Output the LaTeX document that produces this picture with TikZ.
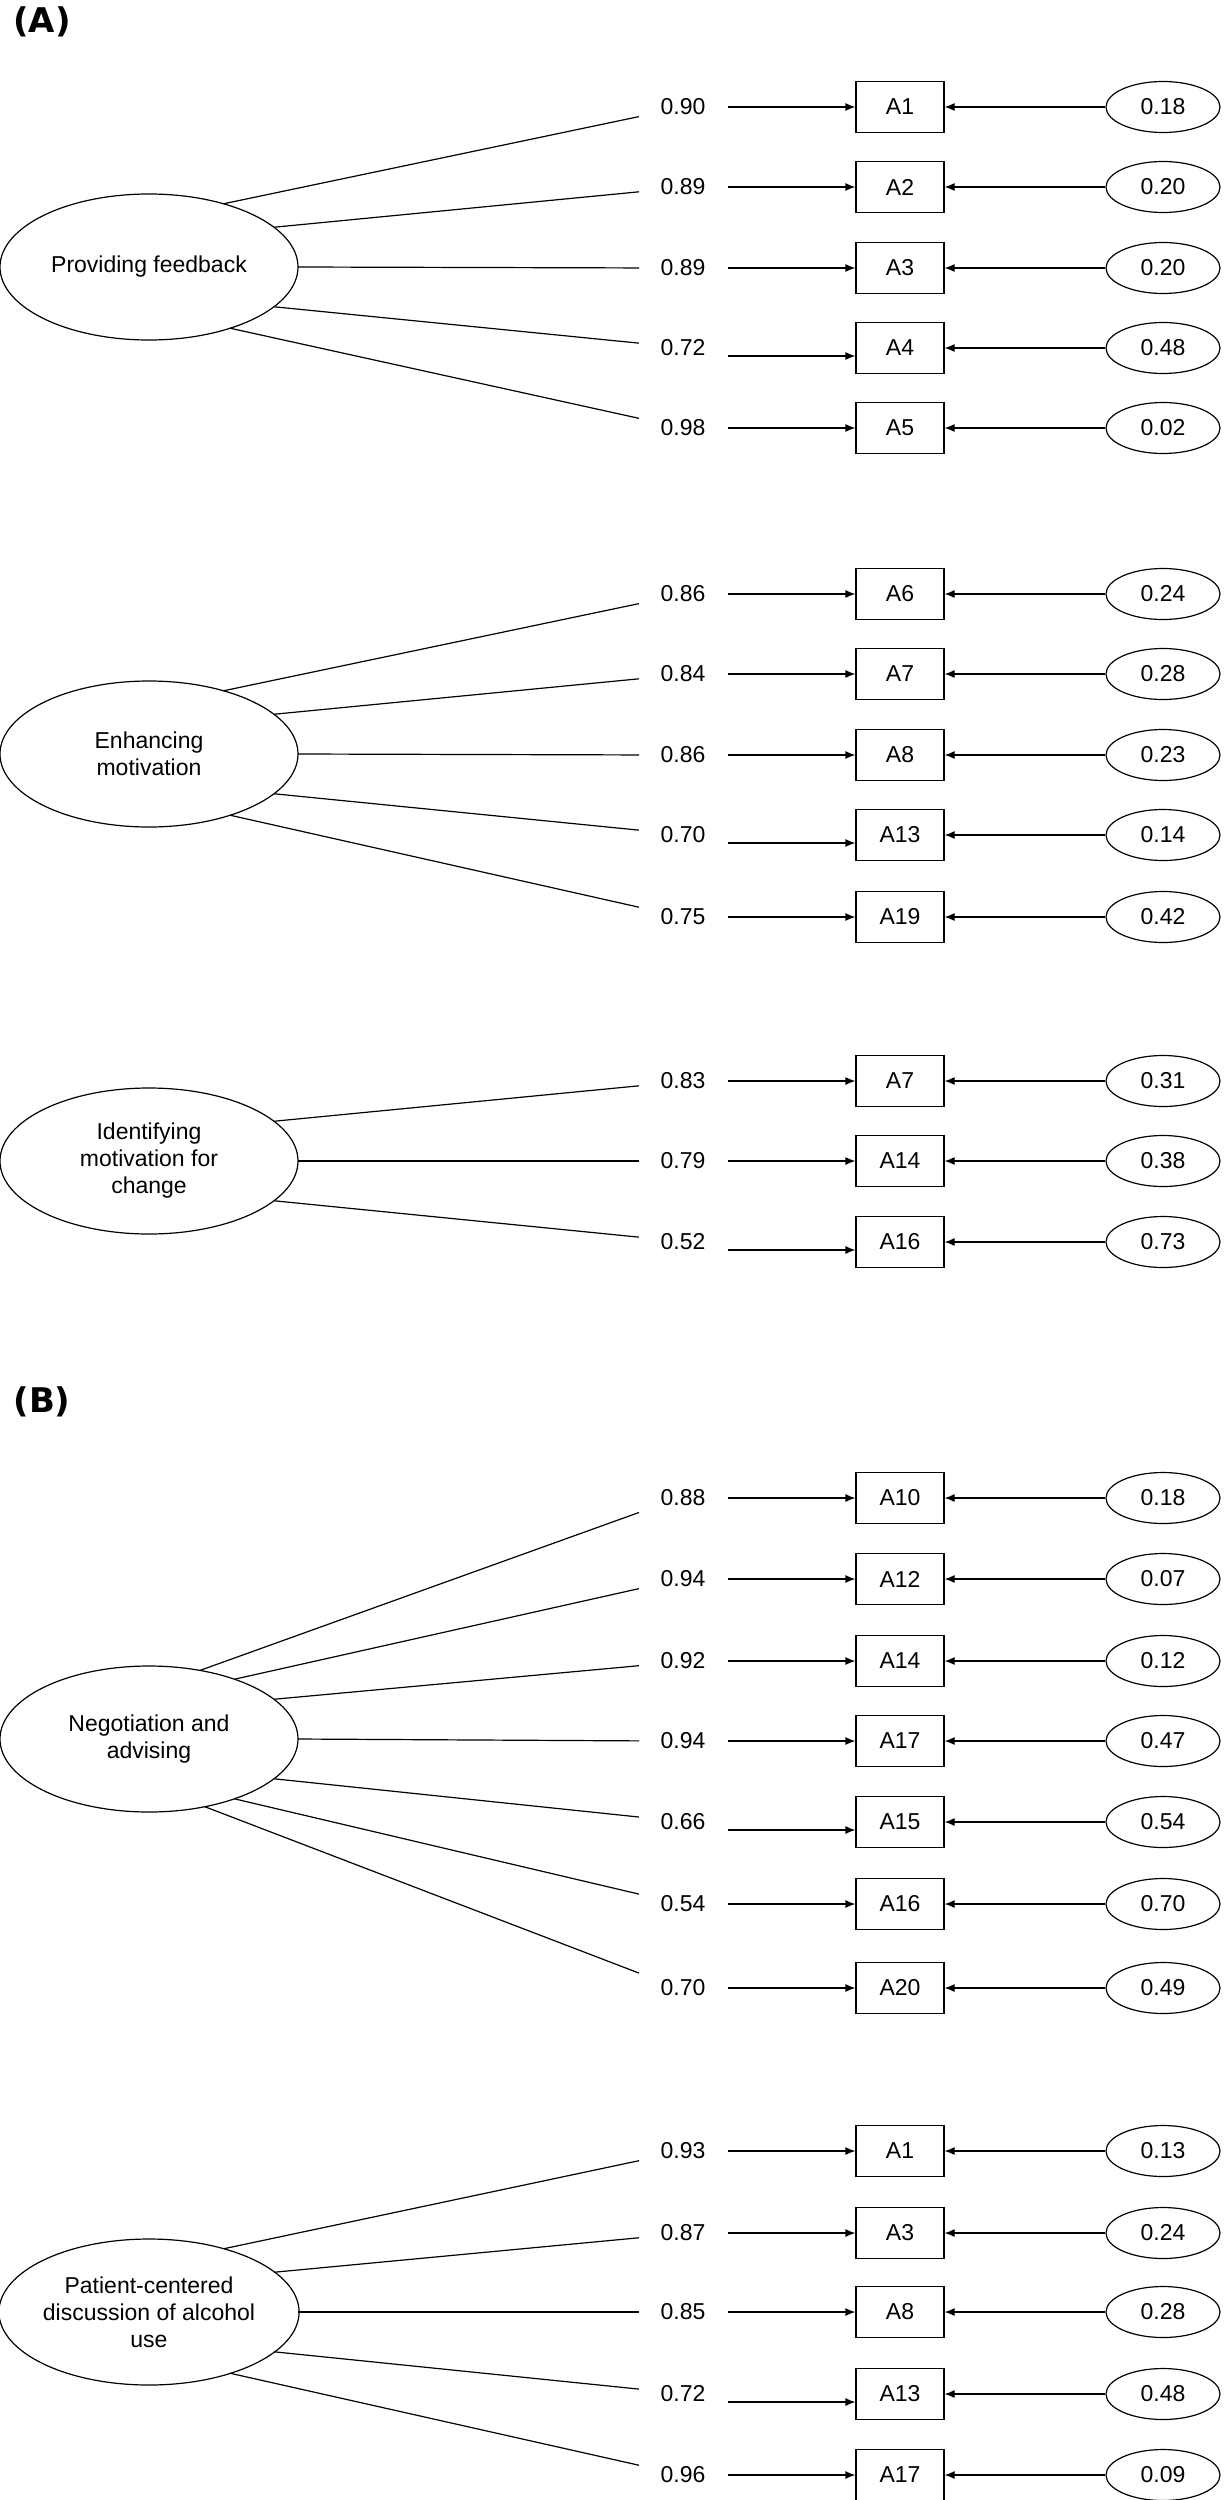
\documentclass[tikz,border=0pt]{standalone}
\usepackage{fontspec}
\setmainfont{Liberation Sans}
\newfontfamily\heavy{DejaVu Sans}
\usetikzlibrary{arrows.meta,calc,shapes.geometric}
\begin{document}
\begin{tikzpicture}[x=0.5pt,y=-0.5pt,
  every node/.style={font=\fontsize{11.5}{13.5}\selectfont},
  lat/.style={draw,ellipse,minimum width=149pt,minimum height=73pt,inner sep=0pt,align=center,line width=0.6pt},
  item/.style={draw,rectangle,minimum width=44pt,minimum height=25.5pt,inner sep=0pt,line width=0.6pt},
  err/.style={draw,ellipse,minimum width=57pt,minimum height=25.5pt,inner sep=0pt,line width=0.6pt},
  load/.style={inner sep=0pt},
  con/.style={line width=0.6pt},
  arr/.style={line width=0.6pt,-{Latex[length=5pt,width=4pt]}},
  panel/.style={font=\heavy\bfseries\fontsize{17}{19}\selectfont}]
\useasboundingbox (0,0) rectangle (1223,2500);
\node[panel] (pA) at (42,22) {(A)};
\node[panel] (pB) at (42,1402) {(B)};
\node[lat] (L1) at (149,267) {Providing feedback};
\node[lat] (L2) at (149,754) {Enhancing\\motivation};
\node[lat] (L3) at (149,1161) {Identifying\\motivation for\\change};
\node[lat] (L4) at (149,1739) {Negotiation and\\advising};
\node[lat] (L5) at (149,2312) {Patient-centered\\discussion of alcohol\\use};
\foreach \i/\ry/\lab/\txt/\e/\L/\ly/\off/\t in {
 1/107/A1/0.90/0.18/L1/267/0/-60, 2/187/A2/0.89/0.20/L1/267/0/-33, 3/268/A3/0.89/0.20/L1/267/0/0,
 4/348/A4/0.72/0.48/L1/267/8/33, 5/428/A5/0.98/0.02/L1/267/0/57,
 6/594/A6/0.86/0.24/L2/754/0/-60, 7/674/A7/0.84/0.28/L2/754/0/-33, 8/755/A8/0.86/0.23/L2/754/0/0,
 9/835/A13/0.70/0.14/L2/754/8/33, 10/917/A19/0.75/0.42/L2/754/0/57,
 11/1081/A7/0.83/0.31/L3/1161/0/-33, 12/1161/A14/0.79/0.38/L3/1161/0/0, 13/1242/A16/0.52/0.73/L3/1161/8/33,
 14/1498/A10/0.88/0.18/L4/1739/0/-70, 15/1579/A12/0.94/0.07/L4/1739/0/-55, 16/1661/A14/0.92/0.12/L4/1739/0/-33,
 17/1741/A17/0.94/0.47/L4/1739/0/0, 18/1822/A15/0.66/0.54/L4/1739/8/33, 19/1904/A16/0.54/0.70/L4/1739/0/55,
 20/1988/A20/0.70/0.49/L4/1739/0/68,
 21/2151/A1/0.93/0.13/L5/2312/0/-60, 22/2233/A3/0.87/0.24/L5/2312/0/-33, 23/2312/A8/0.85/0.28/L5/2312/0/0,
 24/2394/A13/0.72/0.48/L5/2312/8/33, 25/2475/A17/0.96/0.09/L5/2312/0/57}{
  \node[load] (v\i) at (683,\ry) {\txt};
  \node[item] (b\i) at (900,\ry) {\lab};
  \node[err] (e\i) at (1163,\ry) {\e};
  \pgfmathsetmacro{\endy}{\ry+(\ly-\ry)*0.06}
  \coordinate (t\i) at (639,\endy);
  \coordinate (o\i) at ($(\L)+({149*cos(\t)},{73*sin(\t)})$);
  \coordinate (s\i) at (728,\ry+\off);
  \draw[con] (o\i) -- (t\i);
  \draw[arr] (s\i) -- (s\i -| b\i.west);
  \draw[arr] (e\i) -- (b\i);
}
\end{tikzpicture}
\end{document}
